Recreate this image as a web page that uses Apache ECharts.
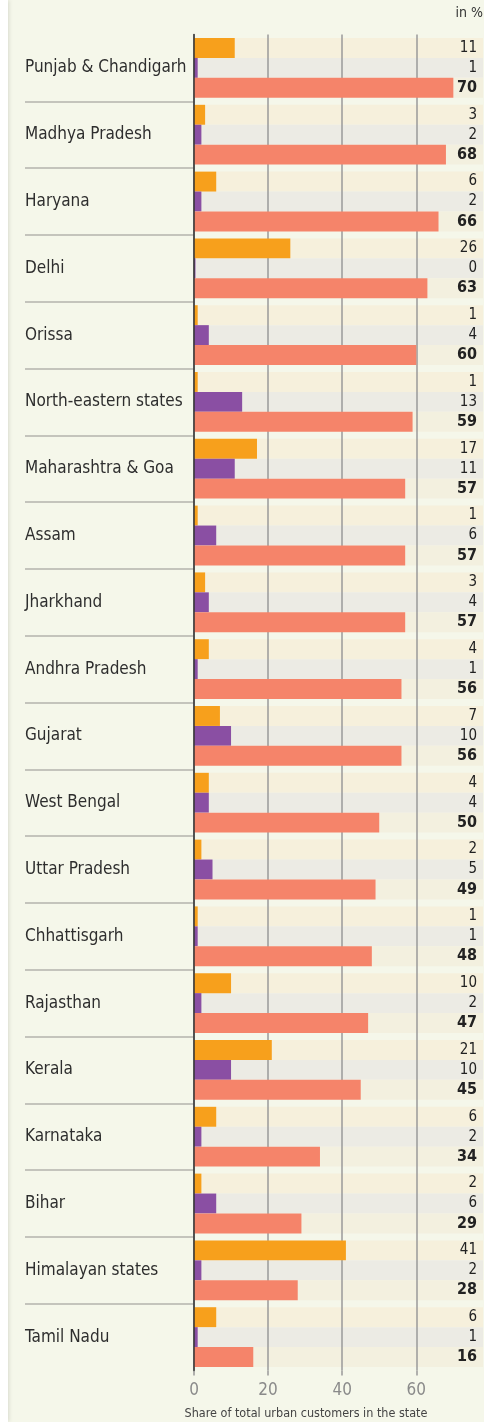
<!DOCTYPE html>
<html>
<head>
<meta charset="utf-8">
<script src="https://cdn.jsdelivr.net/npm/echarts@6/dist/echarts.min.js"></script>
<style>
  html, body { margin: 0; padding: 0; background: #f5f7ea; }
  #chart { width: 484px; height: 1422px; }
</style>
</head>
<body>
<div id="chart"></div>
<script>
const states = ['Punjab & Chandigarh', 'Madhya Pradesh', 'Haryana', 'Delhi', 'Orissa',
  'North-eastern states', 'Maharashtra & Goa', 'Assam', 'Jharkhand', 'Andhra Pradesh',
  'Gujarat', 'West Bengal', 'Uttar Pradesh', 'Chhattisgarh', 'Rajasthan', 'Kerala',
  'Karnataka', 'Bihar', 'Himalayan states', 'Tamil Nadu']
const orangeVals = [11, 3, 6, 26, 1, 1, 17, 1, 3, 4, 7, 4, 2, 1, 10, 21, 6, 2, 41, 6]
const purpleVals = [1, 2, 2, 0.4, 4, 13, 11, 6, 4, 1, 10, 4, 5, 1, 2, 10, 2, 6, 2, 1]
const salmonVals = [70, 68, 66, 63, 60, 59, 57, 57, 57, 56, 56, 50, 49, 48, 47, 45, 34, 29, 28, 16]
const xTicks = [0, 20, 40, 60]
const xMax = 78

const font = "'DejaVu Sans Condensed', 'DejaVu Sans', sans-serif"

// coloured bar + stacked band that fills the rest of the row and carries the value label
function pair(key, vals, color, band, bold) {
  return [
    {
      type: 'bar', stack: key, z: 3, data: vals,
      itemStyle: { color: color },
      barCategoryGap: '10.5%', barGap: 0
    },
    {
      type: 'bar', stack: key, z: 1, data: vals.map(v => xMax - v),
      itemStyle: { color: band },
      label: {
        show: true,
        position: 'insideRight',
        distance: 6,
        fontFamily: font,
        fontSize: bold ? 16 : 15,
        fontWeight: bold ? 'bold' : 'normal',
        color: '#222',
        formatter: p => Math.round(vals[p.dataIndex])
      }
    }
  ]
}

const chart = echarts.init(document.getElementById('chart'))
chart.setOption({
  backgroundColor: '#f5f7ea',
  animation: false,
  grid: [
    { left: 194, right: 1, top: 34.5, bottom: 51.5 },
    // left strip only used for the separators between states
    { left: 25, width: 169, top: 34.5, bottom: 51.5 }
  ],
  xAxis: [
    {
      type: 'value', min: 0, max: xMax, interval: 20, z: 2,
      axisLine: { show: false },
      axisTick: { show: true, length: 5, lineStyle: { color: '#999', width: 1.5 } },
      splitLine: { show: true, showMaxLine: false, lineStyle: { color: '#9a9a9a', width: 1.5 } },
      axisLabel: {
        showMaxLabel: false,
        margin: 12,
        fontFamily: font,
        fontSize: 17,
        color: v => (v === 0 ? '#333' : '#8a8a8a'),
        formatter: v => (xTicks.indexOf(v) >= 0 ? v : '')
      }
    },
    { type: 'value', gridIndex: 1, show: false }
  ],
  yAxis: [
    {
      type: 'category', inverse: true, data: states, z: 4,
      axisLine: { show: true, lineStyle: { color: '#333', width: 1.5 } },
      axisTick: { show: false },
      axisLabel: {
        align: 'left', margin: 169,
        fontFamily: font, fontSize: 17, color: '#2e2e2e'
      }
    },
    {
      type: 'category', inverse: true, data: states, gridIndex: 1,
      axisLine: { show: false }, axisTick: { show: false }, axisLabel: { show: false },
      splitLine: {
        show: true, showMinLine: false, showMaxLine: false,
        lineStyle: { color: '#b3b3ad', width: 1.5 }
      }
    }
  ],
  series: [
    ...pair('o', orangeVals, '#f7a01c', '#f6f0dc', false),
    ...pair('p', purpleVals, '#8a4fa3', '#ecebe4', false),
    ...pair('s', salmonVals, '#f5846a', '#f3f0df', true)
  ],
  graphic: [
    {
      type: 'rect', left: 0, top: 0, z: 10,
      shape: { width: 8, height: 1422 },
      style: { fill: '#ffffff', shadowColor: 'rgba(0,0,0,0.12)', shadowBlur: 4, shadowOffsetX: 1 }
    },
    {
      type: 'text', right: 1, top: 6,
      style: { text: 'in %', font: '14px ' + font, fill: '#333' }
    },
    {
      type: 'text', x: 306, y: 1414,
      style: {
        text: 'Share of total urban customers in the state',
        font: '12.5px ' + font, fill: '#444', align: 'center', verticalAlign: 'middle'
      }
    }
  ]
})
</script>
</body>
</html>
